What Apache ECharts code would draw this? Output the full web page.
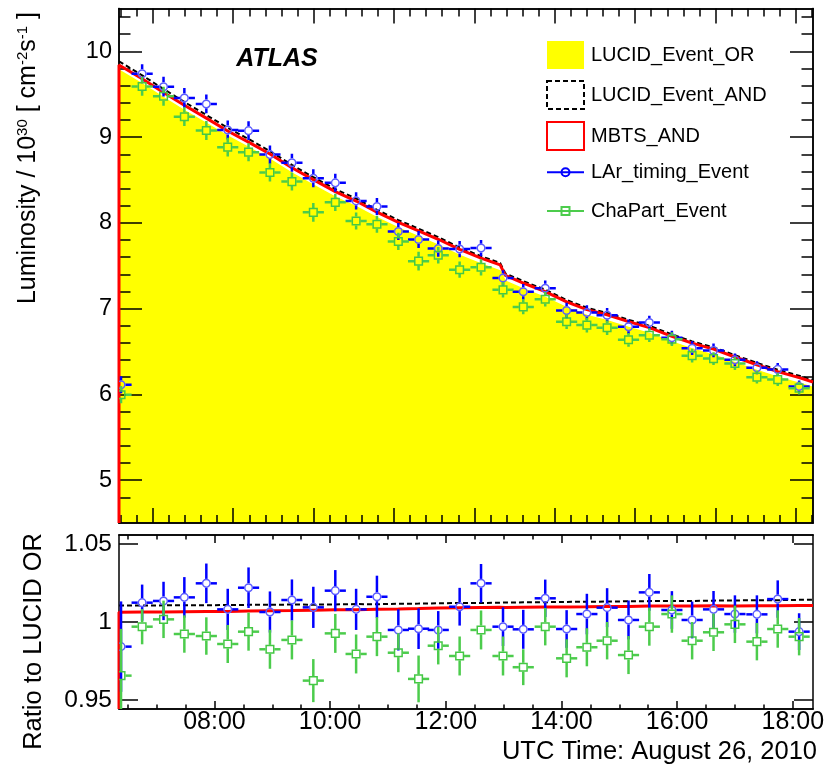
<!DOCTYPE html>
<html>
<head>
<meta charset="utf-8">
<title>ATLAS luminosity, August 26, 2010</title>
<script src="https://cdn.jsdelivr.net/npm/echarts@6/dist/echarts.min.js"></script>
<style>
  html, body { margin: 0; padding: 0; background: #fff; }
  #chart { width: 825px; height: 765px; }
</style>
</head>
<body>
<div id="chart"></div>
<script>
const FONT = "'Liberation Sans', Arial, Helvetica, sans-serif";

// time is in decimal hours UTC
const timeMin = 6.35, timeMax = 18.35;
const lumiMin = 4.5, lumiMax = 10.5;
const ratioMin = 0.9442, ratioMax = 1.0558;

// fine luminosity curve (10^30 cm^-2 s^-1) and the ratios of the other two to it
const lumiTimes = [6.35, 6.75, 7.12, 7.48, 7.86, 8.23, 8.59, 8.96, 9.34, 9.71, 10.09, 10.45, 10.81, 11.18, 11.53, 11.87,
  12.24, 12.61, 12.94, 13.03, 13.34, 13.72, 14.09, 14.44, 14.79, 15.16, 15.52, 15.91, 16.26, 16.63, 17.00, 17.38, 17.74, 18.11, 18.35];
const lucidOr = [9.78, 9.62, 9.46, 9.31, 9.16, 9.01, 8.88, 8.74, 8.58, 8.44, 8.30, 8.19, 8.06, 7.94, 7.84, 7.74,
  7.62, 7.52, 7.44, 7.32, 7.23, 7.13, 7.01, 6.92, 6.86, 6.78, 6.71, 6.61, 6.53, 6.46, 6.37, 6.28, 6.20, 6.13, 6.08];
const andRatio = [1.0106, 1.0105, 1.0107, 1.0108, 1.0107, 1.0109, 1.0110, 1.0110, 1.0112, 1.0111, 1.0113, 1.0115, 1.0114, 1.0117, 1.0118, 1.0120,
  1.0122, 1.0122, 1.0124, 1.0125, 1.0126, 1.0127, 1.0129, 1.0130, 1.0131, 1.0133, 1.0134, 1.0135, 1.0135, 1.0137, 1.0138, 1.0140, 1.0140, 1.0142, 1.0143];
const mbtsRatio = [1.0063, 1.0064, 1.0064, 1.0066, 1.0067, 1.0068, 1.0070, 1.0072, 1.0073, 1.0076, 1.0078, 1.0079, 1.0082, 1.0084, 1.0086, 1.0089,
  1.0092, 1.0093, 1.0094, 1.0093, 1.0095, 1.0096, 1.0097, 1.0098, 1.0100, 1.0100, 1.0102, 1.0102, 1.0103, 1.0104, 1.0103, 1.0105, 1.0105, 1.0106, 1.0106];

// coarse bins (about 22 min wide)
const binTimes = [6.385, 6.75, 7.12, 7.48, 7.86, 8.23, 8.59, 8.96, 9.34, 9.71, 10.09, 10.45, 10.81, 11.18, 11.53, 11.87,
  12.24, 12.61, 12.99, 13.34, 13.72, 14.09, 14.44, 14.79, 15.16, 15.52, 15.91, 16.26, 16.63, 17.00, 17.38, 17.74, 18.11];
const binHalfWidth = 0.183;
const binOr = [6.21, 9.62, 9.46, 9.31, 9.16, 9.01, 8.88, 8.74, 8.58, 8.44, 8.30, 8.19, 8.06, 7.94, 7.84, 7.74,
  7.62, 7.52, 7.38, 7.23, 7.13, 7.01, 6.92, 6.86, 6.78, 6.71, 6.61, 6.53, 6.46, 6.37, 6.28, 6.20, 6.13];

const larRatio = [0.9842, 1.0124, 1.0135, 1.0158, 1.0248, 1.0081, 1.0220, 1.0064, 1.0141, 1.0094, 1.0201, 1.0081, 1.0162, 0.9949, 0.9957, 0.9949,
  1.0098, 1.0248, 0.9970, 0.9953, 1.0152, 0.9955, 1.0051, 1.0092, 1.0013, 1.0190, 1.0077, 1.0013, 1.0081, 1.0051, 1.0049, 1.0147, 0.9938];
const larErr = [0.029, 0.0116, 0.0123, 0.013, 0.0127, 0.0132, 0.013, 0.0132, 0.0132, 0.0132, 0.0132, 0.0132, 0.0135, 0.0132, 0.013, 0.0121,
  0.0121, 0.0124, 0.0124, 0.0125, 0.012, 0.0121, 0.013, 0.0125, 0.0125, 0.0118, 0.0121, 0.0118, 0.0118, 0.012, 0.0122, 0.012, 0.0118];
const larLumiErr = [0.10, 0.11, 0.115, 0.115, 0.11, 0.11, 0.11, 0.105, 0.105, 0.105, 0.105, 0.10, 0.10, 0.10, 0.10, 0.095,
  0.095, 0.095, 0.09, 0.09, 0.09, 0.09, 0.085, 0.085, 0.085, 0.08, 0.08, 0.08, 0.08, 0.075, 0.075, 0.075, 0.07];

const chaRatio = [0.9656, 0.9970, 1.0017, 0.9923, 0.9910, 0.9859, 0.9938, 0.9825, 0.9885, 0.9624, 0.9927, 0.9795, 0.9906, 0.9803, 0.9635, 0.9848,
  0.9782, 0.9949, 0.9782, 0.9710, 0.9970, 0.9767, 0.9838, 0.9880, 0.9788, 0.9970, 1.0051, 0.9880, 0.9934, 0.9985, 0.9874, 0.9955, 0.9906];
const chaErr = [0.03, 0.0113, 0.012, 0.012, 0.012, 0.0122, 0.0122, 0.0125, 0.0125, 0.0138, 0.0125, 0.0125, 0.0125, 0.0125, 0.015, 0.012,
  0.0125, 0.0125, 0.0125, 0.0115, 0.012, 0.0122, 0.0122, 0.012, 0.0122, 0.0122, 0.012, 0.012, 0.012, 0.012, 0.012, 0.012, 0.012];
const chaLumiErr = [0.10, 0.11, 0.11, 0.11, 0.11, 0.11, 0.105, 0.105, 0.105, 0.11, 0.10, 0.10, 0.10, 0.10, 0.11, 0.095,
  0.095, 0.095, 0.09, 0.085, 0.085, 0.085, 0.085, 0.085, 0.08, 0.08, 0.08, 0.08, 0.075, 0.075, 0.075, 0.075, 0.075];

// ticks and labels
const hourLabels = [8, 10, 12, 14, 16, 18];
const topPanelTicks = [6.935, 8.325, 9.715, 11.105, 12.495, 13.885, 15.275, 16.665, 18.055];
const lumiLabels = [5, 6, 7, 8, 9, 10];
const ratioLabels = [0.95, 1, 1.05];

const halfHourTicks = [];
for (let h = 6.5; h < timeMax; h += 0.5) if (h % 2 !== 0) halfHourTicks.push(h);

let topMinorTicks = [];
topPanelTicks.forEach((m, i) => {
  const next = i + 1 < topPanelTicks.length ? topPanelTicks[i + 1] : m + (m - topPanelTicks[i - 1]);
  const step = (next - m) / 5;
  for (let k = 1; k < 5; k++) {
    topMinorTicks.push(m + k * step);
    if (i === 0) topMinorTicks.push(m - k * step);
  }
});
topMinorTicks = topMinorTicks.filter(v => v > timeMin && v < timeMax);

const lumiMinorTicks = [];
for (let k = Math.round(lumiMin * 5) + 1; k < Math.round(lumiMax * 5); k++) {
  if (k % 5) lumiMinorTicks.push(k / 5);
}

const frameStyle = { color: '#000', width: 1.5 };

function frameAxis(gridIndex, position, range, ticks, length, label) {
  return {
    type: 'value', gridIndex, position, min: range[0], max: range[1], z: 3,
    axisLine: { show: true, onZero: false, lineStyle: frameStyle },
    axisTick: { show: true, inside: true, length, customValues: ticks, lineStyle: frameStyle },
    axisLabel: label
      ? Object.assign({ show: true, customValues: ticks, color: '#000', fontFamily: FONT }, label)
      : { show: false },
    splitLine: { show: false },
    minorTick: { show: false }
  };
}

function errorPoints(marker, barColor, markColor) {
  return function (params, api) {
    const t = api.value(0), v = api.value(1), err = api.value(2);
    const c = api.coord([t, v]);
    const cx = c[0], cy = c[1];
    const yHi = api.coord([t, v + err])[1];
    const yLo = api.coord([t, v - err])[1];
    const xL = api.coord([t - binHalfWidth, v])[0];
    const xR = api.coord([t + binHalfWidth, v])[0];
    const r = 4.4;
    const bar = { stroke: barColor, lineWidth: 2.5 };
    const seg = (x1, y1, x2, y2) => ({ type: 'line', shape: { x1, y1, x2, y2 }, style: bar });
    const children = [];
    if (cy - yHi > r) children.push(seg(cx, yHi, cx, cy - r));
    if (yLo - cy > r) children.push(seg(cx, cy + r, cx, yLo));
    children.push(seg(xL, cy, cx - r, cy), seg(cx + r, cy, xR, cy));
    const markStyle = { fill: 'transparent', stroke: markColor, lineWidth: 1.5 };
    children.push(marker === 'circle'
      ? { type: 'circle', shape: { cx, cy, r: r - 0.6 }, style: markStyle }
      : { type: 'rect', shape: { x: cx - r + 0.6, y: cy - r + 0.6, width: 2 * r - 1.2, height: 2 * r - 1.2 }, style: markStyle });
    return { type: 'group', children };
  };
}

const topAxes = { xAxisIndex: 0, yAxisIndex: 0 };
const ratioAxes = { xAxisIndex: 4, yAxisIndex: 4 };
const plain = { symbol: 'none', silent: true, emphasis: { disabled: true } };

const chart = echarts.init(document.getElementById('chart'));

chart.setOption({
  animation: false,
  backgroundColor: '#fff',
  grid: [
    { left: 119, right: 12, top: 8.5, height: 514.5, containLabel: false, outerBoundsMode: 'none' },
    { left: 119, right: 12, top: 535, height: 174, containLabel: false, outerBoundsMode: 'none' }
  ],
  xAxis: [
    frameAxis(0, 'bottom', [timeMin, timeMax], topPanelTicks, 15),
    frameAxis(0, 'bottom', [timeMin, timeMax], topMinorTicks, 8),
    frameAxis(0, 'top', [timeMin, timeMax], topPanelTicks, 15),
    frameAxis(0, 'top', [timeMin, timeMax], topMinorTicks, 8),
    frameAxis(1, 'bottom', [timeMin, timeMax], hourLabels, 8, {
      fontSize: 25, margin: 1,
      formatter: v => (v < 10 ? '0' : '') + v + ':00'
    }),
    frameAxis(1, 'bottom', [timeMin, timeMax], halfHourTicks, 4.5),
    frameAxis(1, 'top', [timeMin, timeMax], hourLabels, 8),
    frameAxis(1, 'top', [timeMin, timeMax], halfHourTicks, 4.5)
  ],
  yAxis: [
    frameAxis(0, 'left', [lumiMin, lumiMax], lumiLabels, 23, { fontSize: 23.5, margin: 7 }),
    frameAxis(0, 'left', [lumiMin, lumiMax], lumiMinorTicks, 11.5),
    frameAxis(0, 'right', [lumiMin, lumiMax], lumiLabels, 23),
    frameAxis(0, 'right', [lumiMin, lumiMax], lumiMinorTicks, 11.5),
    frameAxis(1, 'left', [ratioMin, ratioMax], ratioLabels, 19, { fontSize: 24.5, margin: 7 }),
    frameAxis(1, 'right', [ratioMin, ratioMax], ratioLabels, 19)
  ],
  legend: [
    {
      left: 546, top: 41, orient: 'vertical', padding: 0, selectedMode: false,
      itemWidth: 37, itemHeight: 28, itemGap: 11,
      textStyle: { fontFamily: FONT, fontSize: 20, lineHeight: 20, color: '#000', padding: [0, 0, 0, 2] },
      data: [
        { name: 'LUCID_Event_OR', icon: 'rect', itemStyle: { color: '#ffff00', borderWidth: 0 } },
        { name: 'LUCID_Event_AND', icon: 'rect', itemStyle: { color: 'rgba(0,0,0,0)', borderColor: '#000', borderWidth: 2, borderType: [5, 3] } },
        { name: 'MBTS_AND', icon: 'rect', itemStyle: { color: 'rgba(0,0,0,0)', borderColor: '#ff0000', borderWidth: 2 } }
      ]
    },
    {
      left: 546, top: 162.3, orient: 'vertical', padding: 0, selectedMode: false,
      itemWidth: 37, itemHeight: 8, itemGap: 18.7,
      textStyle: { fontFamily: FONT, fontSize: 20, lineHeight: 20, color: '#000', padding: [0, 0, 0, 2] },
      data: [
        { name: 'LAr_timing_Event', icon: 'path://M0,4L37,4M14.5,4A4,4,0,1,0,22.5,4A4,4,0,1,0,14.5,4Z',
          itemStyle: { color: 'rgba(0,0,0,0)', borderColor: '#0000ff', borderWidth: 2 } },
        { name: 'ChaPart_Event', icon: 'path://M0,4L37,4M14.5,0L22.5,0L22.5,8L14.5,8Z',
          itemStyle: { color: 'rgba(0,0,0,0)', borderColor: '#4ccc4c', borderWidth: 2 } }
      ]
    }
  ],
  graphic: [
    {
      type: 'text', x: 277, y: 59, silent: true,
      style: { text: 'ATLAS', fill: '#000', font: "italic bold 25px 'Liberation Sans', Arial, sans-serif", align: 'center', verticalAlign: 'middle' }
    },
    {
      type: 'text', x: 28, y: 12, rotation: Math.PI / 2, silent: true,
      style: {
        text: '{m|Luminosity / 10}{s|30}{m| [ cm}{s|-2}{m|s}{s|-1}{m| ]}',
        align: 'right', verticalAlign: 'middle',
        rich: {
          m: { fontFamily: FONT, fontSize: 25, lineHeight: 25, fill: '#000', verticalAlign: 'bottom' },
          s: { fontFamily: FONT, fontSize: 15, lineHeight: 15, fill: '#000', verticalAlign: 'top', padding: [0, 0, 19, 0] }
        }
      }
    },
    {
      type: 'text', x: 34, y: 533, rotation: Math.PI / 2, silent: true,
      style: { text: 'Ratio to LUCID OR', fontFamily: FONT, fontSize: 25.5, fill: '#000', align: 'right', verticalAlign: 'middle' }
    },
    {
      type: 'text', x: 817, y: 752, silent: true,
      style: { text: 'UTC Time: August 26, 2010', fontFamily: FONT, fontSize: 25.5, fill: '#000', align: 'right', verticalAlign: 'middle' }
    }
  ],
  series: [
    Object.assign({
      name: 'LUCID_Event_OR', type: 'line', z: 2,
      data: lumiTimes.map((t, i) => [t, lucidOr[i]]),
      itemStyle: { color: '#ffff00' },
      lineStyle: { color: '#ffff00', width: 1.5 },
      areaStyle: { color: '#ffff00', opacity: 1, origin: 'start' }
    }, topAxes, plain),
    Object.assign({
      name: 'LUCID_Event_AND', type: 'line', z: 4,
      data: lumiTimes.map((t, i) => [t, lucidOr[i] * andRatio[i]]),
      itemStyle: { color: '#000' },
      lineStyle: { color: '#000', width: 2, type: [5, 3] }
    }, topAxes, plain),
    Object.assign({
      name: 'MBTS_AND', type: 'line', z: 5,
      data: [[timeMin, lumiMin]].concat(lumiTimes.map((t, i) => [t, lucidOr[i] * mbtsRatio[i]])),
      itemStyle: { color: '#ff0000' },
      lineStyle: { color: '#ff0000', width: 3 }
    }, topAxes, plain),
    Object.assign({
      name: 'LAr_timing_Event', type: 'custom', z: 6, clip: true, silent: true,
      renderItem: errorPoints('circle', '#0000ff', '#5c5cff'),
      encode: { x: 0, y: 1 },
      itemStyle: { color: '#0000ff' },
      data: binTimes.map((t, i) => [t, binOr[i] * larRatio[i], larLumiErr[i]])
    }, topAxes),
    Object.assign({
      name: 'ChaPart_Event', type: 'custom', z: 7, clip: true, silent: true,
      renderItem: errorPoints('square', '#4ccc4c', '#44c844'),
      encode: { x: 0, y: 1 },
      itemStyle: { color: '#4ccc4c' },
      data: binTimes.map((t, i) => [t, binOr[i] * chaRatio[i], chaLumiErr[i]])
    }, topAxes),

    // ratio panel
    Object.assign({
      name: 'LUCID_Event_AND', type: 'line', z: 4,
      data: lumiTimes.map((t, i) => [t, andRatio[i]]),
      lineStyle: { color: '#000', width: 2, type: [5, 3] }
    }, ratioAxes, plain),
    Object.assign({
      name: 'MBTS_AND', type: 'line', z: 5,
      data: [[timeMin, ratioMin]].concat(lumiTimes.map((t, i) => [t, mbtsRatio[i]])),
      lineStyle: { color: '#ff0000', width: 3 }
    }, ratioAxes, plain),
    Object.assign({
      name: 'LAr_timing_Event', type: 'custom', z: 6, clip: true, silent: true,
      renderItem: errorPoints('circle', '#0000ff', '#5c5cff'),
      encode: { x: 0, y: 1 },
      data: binTimes.map((t, i) => [t, larRatio[i], larErr[i]])
    }, ratioAxes),
    Object.assign({
      name: 'ChaPart_Event', type: 'custom', z: 7, clip: true, silent: true,
      renderItem: errorPoints('square', '#4ccc4c', '#44c844'),
      encode: { x: 0, y: 1 },
      data: binTimes.map((t, i) => [t, chaRatio[i], chaErr[i]])
    }, ratioAxes)
  ]
});
</script>
</body>
</html>
